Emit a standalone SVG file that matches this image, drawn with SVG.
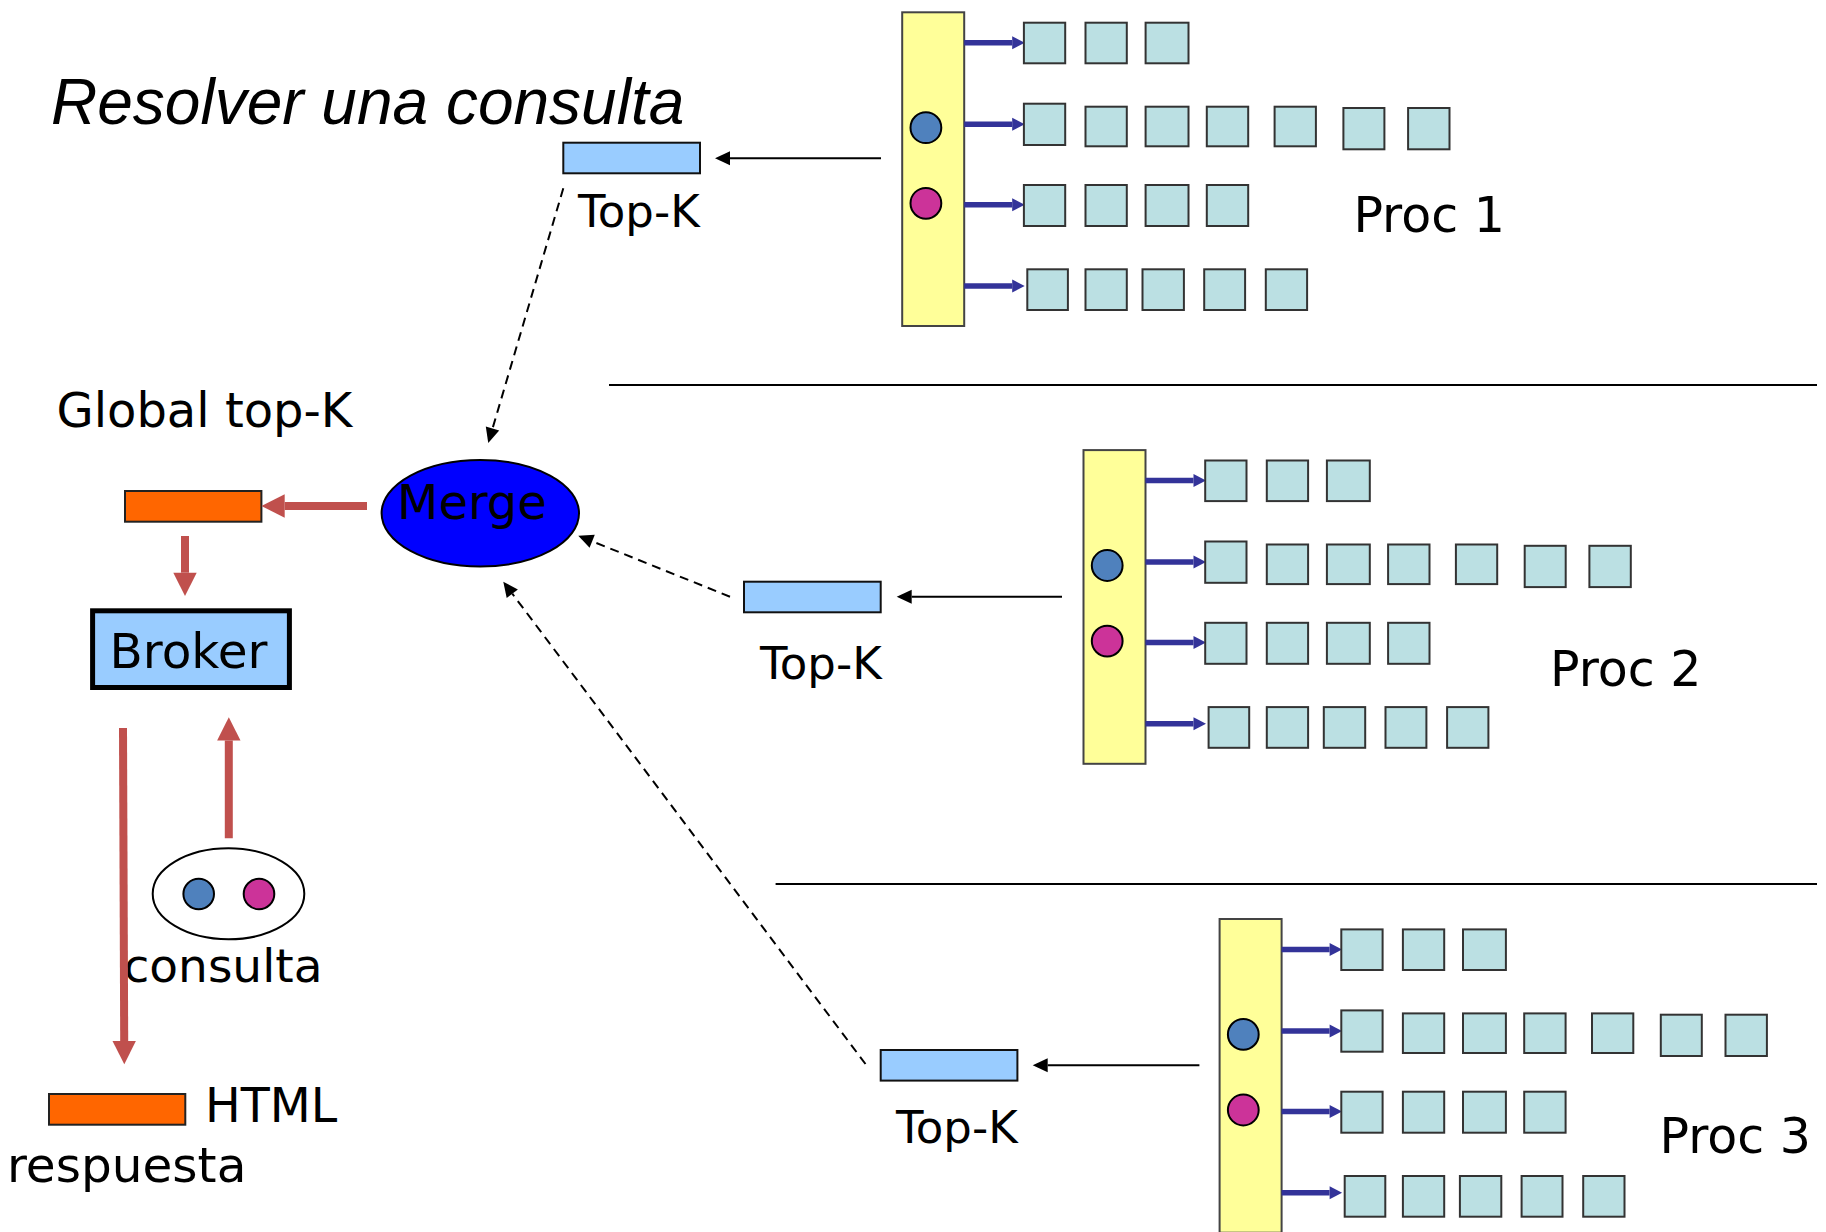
<svg xmlns="http://www.w3.org/2000/svg" xmlns:xlink="http://www.w3.org/1999/xlink" width="1826" height="1232" viewBox="0 0 1826 1232">
  <style>
    .lbl { font-family: "DejaVu Sans", "Noto Sans", sans-serif; fill: #000; }
    .title { font-family: "Liberation Sans", Arial, sans-serif; font-style: italic; fill: #000; }
    .bar { fill: #ffff99; stroke: #444; stroke-width: 2; }
    .sq { fill: #bbe0e3; stroke: #333; stroke-width: 2; }
    .term-a { fill: #4f81bd; stroke: #000; stroke-width: 2; }
    .term-b { fill: #cc3399; stroke: #000; stroke-width: 2; }
    .post { stroke: #333399; stroke-width: 5.5; fill: none; }
    .topk { fill: #99ccff; stroke: #111; stroke-width: 2; }
    .orange { fill: #ff6600; stroke: #222; stroke-width: 2; }
    .red { stroke: #c0504d; stroke-width: 8; fill: none; }
    .thin { stroke: #000; stroke-width: 2; fill: none; }
    .dash { stroke: #000; stroke-width: 2; fill: none; stroke-dasharray: 9 6; }
    .sep { stroke: #000; stroke-width: 2; }
  </style>
  <defs>
    <marker id="head-red" markerUnits="userSpaceOnUse" markerWidth="24" markerHeight="24" refX="0" refY="11.7" orient="auto" overflow="visible">
      <path d="M0,0 L23.3,11.7 L0,23.4 z" fill="#c0504d"/>
    </marker>
    <marker id="head-black" markerUnits="userSpaceOnUse" markerWidth="16" markerHeight="14" refX="0" refY="7" orient="auto" overflow="visible">
      <path d="M0,0 L15,7 L0,14 z" fill="#000"/>
    </marker>
    <marker id="head-blue" markerUnits="userSpaceOnUse" markerWidth="13" markerHeight="13" refX="0" refY="6.5" orient="auto" overflow="visible">
      <path d="M0,0 L12.5,6.5 L0,13 z" fill="#333399"/>
    </marker>

    <!-- inverted index of one processor: vocabulary bar, query terms and posting lists -->
    <g id="index">
      <rect class="bar" x="902.2" y="12.3" width="62" height="313.7"/>
      <circle class="term-a" cx="925.9" cy="127.7" r="15.4"/>
      <circle class="term-b" cx="925.9" cy="203.3" r="15.4"/>
      <g class="post" marker-end="url(#head-blue)">
        <line x1="964.2" y1="42.7" x2="1012.2" y2="42.7"/>
        <line x1="964.2" y1="124.3" x2="1012.2" y2="124.3"/>
        <line x1="964.2" y1="204.7" x2="1012.2" y2="204.7"/>
        <line x1="964.2" y1="286" x2="1012.2" y2="286"/>
      </g>
      <!-- list 1 -->
      <rect class="sq" x="1023.9" y="22.7" width="41.3" height="40.6"/>
      <rect class="sq" x="1085.5" y="22.7" width="41.3" height="40.6"/>
      <rect class="sq" x="1145.6" y="22.7" width="42.9" height="40.6"/>
      <!-- list 2 -->
      <rect class="sq" x="1023.9" y="103.7" width="41.3" height="41.3"/>
      <rect class="sq" x="1085.5" y="106.7" width="41.3" height="39.6"/>
      <rect class="sq" x="1145.6" y="106.7" width="42.9" height="39.6"/>
      <rect class="sq" x="1206.8" y="106.7" width="41.4" height="39.6"/>
      <rect class="sq" x="1274.6" y="106.7" width="41.3" height="39.6"/>
      <rect class="sq" x="1343.4" y="108" width="41" height="41.3"/>
      <rect class="sq" x="1408.1" y="108" width="41.4" height="41.3"/>
      <!-- list 3 -->
      <rect class="sq" x="1023.9" y="185" width="41.3" height="41"/>
      <rect class="sq" x="1085.5" y="185" width="41.3" height="41"/>
      <rect class="sq" x="1145.6" y="185" width="42.9" height="41"/>
      <rect class="sq" x="1206.8" y="185" width="41.4" height="41"/>
      <!-- list 4 -->
      <rect class="sq" x="1027.3" y="269.3" width="40.6" height="40.7"/>
      <rect class="sq" x="1085.5" y="269.3" width="41.3" height="40.7"/>
      <rect class="sq" x="1142.5" y="269.3" width="41.4" height="40.7"/>
      <rect class="sq" x="1204.2" y="269.3" width="40.9" height="40.7"/>
      <rect class="sq" x="1265.8" y="269.3" width="41.3" height="40.7"/>
    </g>
  </defs>

  <rect x="0" y="0" width="1826" height="1232" fill="#fff"/>

  <text id="title" class="title" x="51" y="124.3" font-size="64">Resolver una consulta</text>

  <!-- separators between processors -->
  <g id="separators">
    <line class="sep" x1="609" y1="385" x2="1817" y2="385"/>
    <line class="sep" x1="775.6" y1="884" x2="1817" y2="884"/>
  </g>

  <!-- processors -->
  <g id="proc1">
    <use xlink:href="#index" href="#index"/>
    <text class="lbl" x="1353.4" y="231.5" font-size="49">Proc 1</text>
  </g>
  <g id="proc2">
    <use xlink:href="#index" href="#index" transform="translate(181.3,437.8)"/>
    <text class="lbl" x="1550" y="686" font-size="49">Proc 2</text>
  </g>
  <g id="proc3">
    <use xlink:href="#index" href="#index" transform="translate(317.4,906.7)"/>
    <text class="lbl" x="1659.5" y="1152.5" font-size="49">Proc 3</text>
  </g>

  <!-- local top-K results -->
  <g id="topk1">
    <rect class="topk" x="563.3" y="142.7" width="136.7" height="30.6"/>
    <text class="lbl" x="578" y="226.5" font-size="45">Top-K</text>
  </g>
  <g id="topk2">
    <rect class="topk" x="744" y="581.7" width="136.7" height="30.6"/>
    <text class="lbl" x="760" y="678.8" font-size="45">Top-K</text>
  </g>
  <g id="topk3">
    <rect class="topk" x="880.7" y="1050" width="136.7" height="30.6"/>
    <text class="lbl" x="896" y="1143.2" font-size="45">Top-K</text>
  </g>

  <!-- merge node -->
  <g id="merge">
    <ellipse cx="480.3" cy="513.3" rx="98.7" ry="53.3" fill="#0000ff" stroke="#000" stroke-width="2"/>
    <text class="lbl" x="397" y="519" font-size="48">Merge</text>
  </g>

  <!-- global top-K -->
  <g id="global-topk">
    <text class="lbl" x="56.5" y="426.7" font-size="48">Global top-K</text>
    <rect class="orange" x="125" y="491" width="136.4" height="30.7"/>
  </g>

  <!-- broker -->
  <g id="broker">
    <rect x="92.6" y="610.8" width="196.8" height="76.7" fill="#99ccff" stroke="#000" stroke-width="5"/>
    <text class="lbl" x="109.5" y="667.5" font-size="48.5">Broker</text>
  </g>

  <!-- query -->
  <g id="consulta">
    <ellipse cx="228.5" cy="893.8" rx="75.8" ry="45.5" fill="#fff" stroke="#000" stroke-width="2"/>
    <circle class="term-a" cx="198.7" cy="894" r="15.3"/>
    <circle class="term-b" cx="259" cy="894" r="15.3"/>
    <text class="lbl" x="123.5" y="981.7" font-size="47">consulta</text>
  </g>

  <!-- answer -->
  <g id="respuesta">
    <rect class="orange" x="49" y="1094" width="136.3" height="30.7"/>
    <text class="lbl" x="205" y="1121.7" font-size="47.5">HTML</text>
    <text class="lbl" x="7" y="1181.7" font-size="48.5">respuesta</text>
  </g>

  <!-- connectors -->
  <g id="connectors">
    <!-- index to local top-K -->
    <line class="thin" x1="881" y1="158.3" x2="730" y2="158.3" marker-end="url(#head-black)"/>
    <line class="thin" x1="1062" y1="596.7" x2="911.7" y2="596.7" marker-end="url(#head-black)"/>
    <line class="thin" x1="1199.4" y1="1065.3" x2="1047.7" y2="1065.3" marker-end="url(#head-black)"/>
    <!-- local top-K to merge -->
    <line class="dash" x1="563.3" y1="188.3" x2="492.5" y2="428.6" marker-end="url(#head-black)"/>
    <line class="dash" x1="730" y1="596.7" x2="592.2" y2="541.3" marker-end="url(#head-black)"/>
    <line class="dash" x1="865.5" y1="1064" x2="512.3" y2="593.7" marker-end="url(#head-black)"/>
    <!-- broker flow -->
    <line class="red" x1="367" y1="506" x2="284.7" y2="506" marker-end="url(#head-red)"/>
    <line class="red" x1="185" y1="536" x2="185" y2="572.7" marker-end="url(#head-red)"/>
    <line class="red" x1="123" y1="728" x2="124.2" y2="1041" marker-end="url(#head-red)"/>
    <line class="red" x1="228.8" y1="838.3" x2="228.8" y2="740.6" marker-end="url(#head-red)"/>
  </g>
</svg>
